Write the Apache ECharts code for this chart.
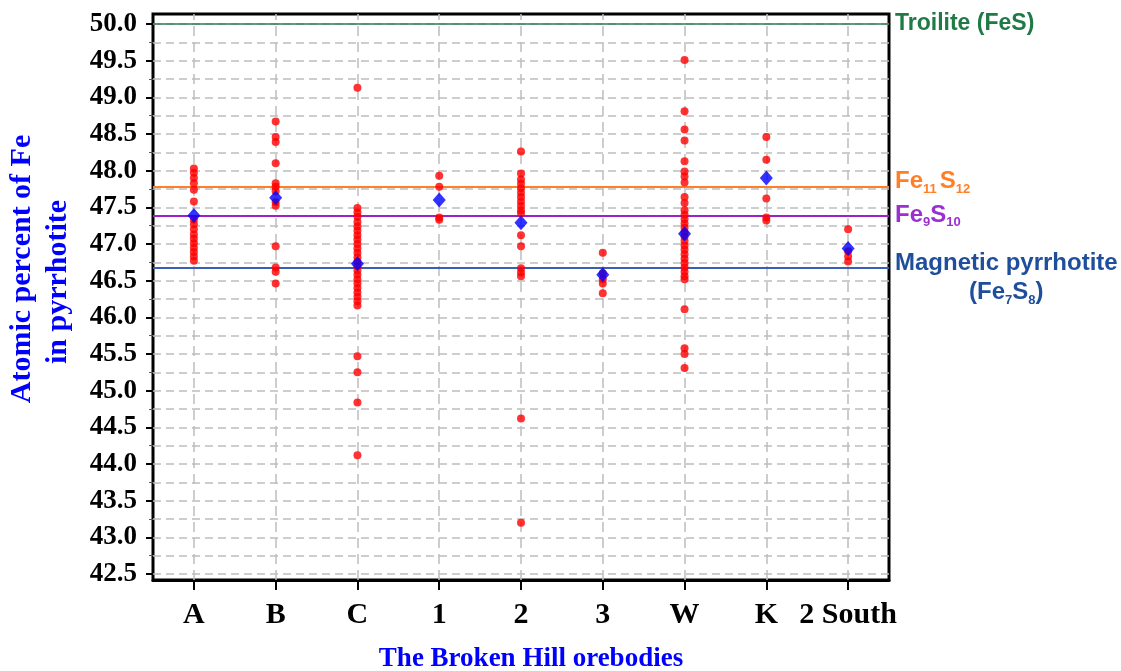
<!DOCTYPE html>
<html>
<head>
<meta charset="utf-8">
<script src="https://cdn.jsdelivr.net/npm/echarts@6/dist/echarts.min.js"></script>
<style>html,body{margin:0;padding:0;background:#fff}#chart{width:1121px;height:671px}</style>
</head>
<body>
<div id="chart"></div>
<script>
const categories = ['A', 'B', 'C', '1', '2', '3', 'W', 'K', '2 South'];
const yTicks = { min: 42.5, max: 50.0, step: 0.5 };

const feA = [48.03, 47.97, 47.9, 47.83, 47.74, 47.58, 47.33, 47.27, 47.2, 47.13, 47.07, 47.01, 46.95, 46.89, 46.83, 46.77];
const feB = [48.67, 48.46, 48.39, 48.1, 47.83, 47.78, 47.72, 47.57, 47.52, 46.97, 46.68, 46.62, 46.46];
const feC = [49.13, 47.49, 47.43, 47.37, 47.3, 47.24, 47.18, 47.12, 47.06, 47.0, 46.94, 46.88, 46.82, 46.76, 46.7, 46.64, 46.58, 46.52, 46.46, 46.4, 46.34, 46.28, 46.22, 46.16, 45.47, 45.25, 44.84, 44.12];
const fe1 = [47.93, 47.78, 47.36, 47.33];
const fe2 = [48.26, 47.96, 47.88, 47.82, 47.76, 47.7, 47.64, 47.58, 47.52, 47.46, 47.42, 47.12, 46.97, 46.67, 46.61, 46.56, 44.62, 43.2];
const fe3 = [46.88, 46.6, 46.52, 46.46, 46.33];
const feW = [49.51, 48.81, 48.56, 48.41, 48.13, 47.99, 47.92, 47.84, 47.64, 47.56, 47.46, 47.4, 47.34, 47.28, 47.22, 47.16, 47.1, 47.04, 46.98, 46.92, 46.86, 46.8, 46.74, 46.68, 46.62, 46.56, 46.52, 46.11, 45.58, 45.5, 45.31];
const feK = [48.46, 48.15, 47.62, 47.36, 47.32];
const fe2S = [47.2, 46.9, 46.83, 46.76];
const meanFe = [47.39, 47.63, 46.73, 47.6, 47.29, 46.58, 47.14, 47.9, 46.94];

const troiliteLevel = 50.0;
const fe11s12Level = 47.78;
const fe9s10Level = 47.39;
const fe7s8Level = 46.67;

const columns = [feA, feB, feC, fe1, fe2, fe3, feW, feK, fe2S];
const pointData = [];
columns.forEach((col, i) => col.forEach(v => pointData.push([categories[i], v])));
const meanData = meanFe.map((v, i) => [categories[i], v]);

const serif = 'Liberation Serif, Times New Roman, serif';
const sans = 'Liberation Sans, Arial, sans-serif';
const gridLine = { color: '#bdbdbd', width: 1.5, type: [8, 5] };

const chart = echarts.init(document.getElementById('chart'));
chart.setOption({
  animation: false,
  backgroundColor: '#ffffff',
  grid: [
    { left: 153, width: 736, top: 24, height: 550, show: false, outerBoundsMode: 'none', containLabel: false },
    { left: 153, width: 736, top: 14, height: 566, show: true, borderColor: '#000', borderWidth: 3, backgroundColor: 'transparent', outerBoundsMode: 'none', containLabel: false }
  ],
  xAxis: [
    { gridIndex: 0, type: 'category', data: categories, show: false },
    {
      gridIndex: 1, type: 'category', data: categories, position: 'bottom',
      axisLine: { show: true, lineStyle: { color: '#000', width: 3 } },
      axisTick: { show: true, alignWithLabel: true, interval: 0, length: 10, lineStyle: { color: '#000', width: 2 } },
      axisLabel: { interval: 0, margin: 20, color: '#000', fontFamily: serif, fontWeight: 'bold', fontSize: 30 },
      splitLine: { show: false },
      name: 'The Broken Hill orebodies', nameLocation: 'middle', nameGap: 66,
      nameTextStyle: { color: '#0000ff', fontFamily: serif, fontWeight: 'bold', fontSize: 27, padding: [0, 0, 0, 20] }
    }
  ],
  yAxis: [
    {
      gridIndex: 0, type: 'value', min: yTicks.min, max: yTicks.max, interval: yTicks.step,
      axisLine: { show: false },
      axisTick: { show: true, length: 7, lineStyle: { color: '#000', width: 2 } },
      minorTick: { show: true, splitNumber: 2, length: 4, lineStyle: { color: '#555', width: 1 } },
      axisLabel: { margin: 16, color: '#000', fontFamily: serif, fontWeight: 'bold', fontSize: 27,
        formatter: v => v.toFixed(1) },
      splitLine: { show: true, lineStyle: gridLine },
      minorSplitLine: { show: true, lineStyle: gridLine }
    },
    { gridIndex: 1, type: 'value', min: 0, max: 1, show: false, splitLine: { show: false } }
  ],
  graphic: [
    { type: 'text', x: 22, y: 269, rotation: Math.PI / 2,
      style: { text: 'Atomic percent of Fe', fill: '#0000ff', font: 'bold 30px ' + serif, textAlign: 'center', textVerticalAlign: 'middle' } },
    { type: 'text', x: 58, y: 282, rotation: Math.PI / 2,
      style: { text: 'in pyrrhotite', fill: '#0000ff', font: 'bold 30px ' + serif, textAlign: 'center', textVerticalAlign: 'middle' } }
  ],
  series: [
    {
      name: 'vgrid', type: 'scatter', xAxisIndex: 1, yAxisIndex: 1, data: [], silent: true,
      markLine: {
        z: 1, silent: true, symbol: 'none', animation: false,
        label: { show: false },
        lineStyle: { color: '#bdbdbd', width: 1.5, type: [10, 6] },
        data: categories.map(c => ({ xAxis: c }))
      }
    },
    {
      name: 'ref', type: 'scatter', xAxisIndex: 0, yAxisIndex: 0, data: [], silent: true,
      markLine: {
        z: 2, silent: true, symbol: 'none', animation: false,
        label: { show: true, position: 'end', distance: 6, fontFamily: sans, fontWeight: 'bold' },
        data: [
          { yAxis: troiliteLevel, lineStyle: { color: '#2e7d4f', width: 1.5, type: 'solid' },
            label: { formatter: 'Troilite (FeS)', color: '#1f7a45', fontSize: 23 } },
          { yAxis: fe11s12Level, lineStyle: { color: '#ff7f27', width: 2, type: 'solid' },
            label: { formatter: '{m|Fe}{s|11}{m|S}{s|12}', padding: [0, 0, 10, 0],
              rich: { m: { color: '#ff7f27', fontSize: 24, fontWeight: 'bold', fontFamily: sans, lineHeight: 28 },
                      s: { color: '#ff7f27', fontSize: 13, fontWeight: 'bold', fontFamily: sans, lineHeight: 28, verticalAlign: 'bottom', padding: [0, 3, 0, 0] } } } },
          { yAxis: fe9s10Level, lineStyle: { color: '#a020c8', width: 2, type: 'solid' },
            label: { formatter: '{m|Fe}{s|9}{m|S}{s|10}',
              rich: { m: { color: '#9b30d0', fontSize: 24, fontWeight: 'bold', fontFamily: sans, lineHeight: 28 },
                      s: { color: '#9b30d0', fontSize: 13, fontWeight: 'bold', fontFamily: sans, lineHeight: 28, verticalAlign: 'bottom' } } } },
          { yAxis: fe7s8Level, lineStyle: { color: '#3a5fb5', width: 2, type: 'solid' },
            label: { formatter: '{m|Magnetic pyrrhotite}\n{c|(Fe}{cs|7}{c|S}{cs|8}{c|)}', padding: [20, 0, 0, 0],
              rich: { m: { color: '#1f4e9c', fontSize: 24, fontWeight: 'bold', fontFamily: sans, lineHeight: 29 },
                      c: { color: '#1f4e9c', fontSize: 24, fontWeight: 'bold', fontFamily: sans, lineHeight: 29, align: 'center' },
                      cs: { color: '#1f4e9c', fontSize: 13, fontWeight: 'bold', fontFamily: sans, lineHeight: 29, verticalAlign: 'bottom', align: 'center' } } } }
        ]
      }
    },
    {
      name: 'Fe', type: 'scatter', xAxisIndex: 0, yAxisIndex: 0, z: 3,
      symbol: 'circle', symbolSize: 8,
      itemStyle: { color: '#ff0000' },
      data: pointData
    },
    {
      name: 'Mean', type: 'scatter', xAxisIndex: 0, yAxisIndex: 0, z: 4,
      symbol: 'diamond', symbolSize: [13, 15],
      itemStyle: { color: '#0000ff' },
      data: meanData
    }
  ]
});
</script>
</body>
</html>
